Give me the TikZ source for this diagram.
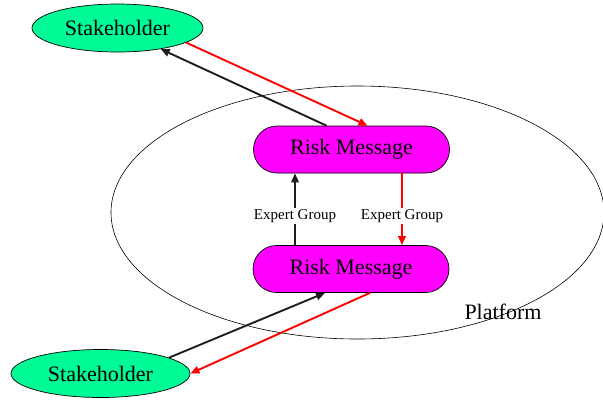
\documentclass[tikz,border=0pt]{standalone}
\usepackage{fontspec}
\setmainfont{Liberation Serif}
\usetikzlibrary{arrows.meta,shapes.geometric}
\definecolor{stgreen}{RGB}{0,250,150}
\definecolor{rmmagenta}{RGB}{255,0,255}
\definecolor{linkdark}{RGB}{30,30,30}
\tikzset{
  stake/.style={ellipse, draw=black, line width=0.7pt, fill=stgreen,
    minimum width=#1, minimum height=48pt, inner sep=0pt,
    font=\fontsize{22}{24}\selectfont},
  riskbox/.style={rectangle, rounded corners=23.5pt, draw=black, line width=0.7pt,
    fill=rmmagenta, minimum width=196pt, minimum height=47pt, inner sep=0pt,
    font=\fontsize{22}{24}\selectfont},
  link/.style={line width=1.9pt, -{Triangle[length=9pt,width=7.5pt]}},
  blk/.style={link, draw=linkdark},
  rd/.style={link, draw=red},
  grouplbl/.style={fill=white, inner sep=1.5pt, font=\fontsize{15}{16}\selectfont}
}
\begin{document}
\begin{tikzpicture}[x=1pt,y=1pt]
\useasboundingbox (0,0) rectangle (603,-400);

% platform boundary
\node (platform) [ellipse, draw=black, line width=0.6pt, minimum width=493pt,
  minimum height=253pt, inner sep=0pt] at (357.5,-212.5) {};
\node (platformlbl) [font=\fontsize{22}{24}\selectfont] at (503,-312) {Platform};

% nodes
\node (st1) [stake=171pt] at (117.5,-28) {Stakeholder};
\node (st2) [stake=179pt] at (100.5,-373.5) {Stakeholder};
\node (rm1) [riskbox] at (351.5,-149.5) {Risk Message};
\node (rm2) [riskbox] at (351,-269) {Risk Message};

% top exchange
\draw[blk] ([xshift=-25pt]rm1.north) -- (st1.-26);
\draw[rd] (st1.-12) -- ([xshift=16pt]rm1.north);

% expert group review
\draw[blk] ([xshift=-56pt]rm2.north) -- node[pos=0.4, grouplbl, text=black] (eg1) {Expert Group} ([xshift=-56.5pt]rm1.south);
\draw[rd] ([xshift=50.5pt]rm1.south) -- node[pos=0.6, grouplbl, text=black] (eg2) {Expert Group} ([xshift=51pt]rm2.north);

% bottom exchange
\draw[blk] (st2.13) -- ([xshift=-26pt]rm2.south);
\draw[rd] ([xshift=19pt]rm2.south) -- (st2.east);
\end{tikzpicture}
\end{document}
